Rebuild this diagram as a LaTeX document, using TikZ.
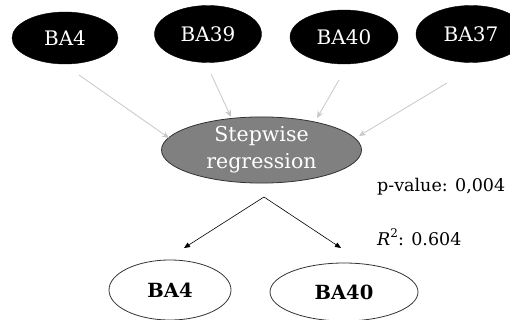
\documentclass[tikz,border=0pt]{standalone}
\usepackage{fontspec}
\setmainfont{DejaVu Serif}
\usetikzlibrary{shapes.geometric,arrows.meta}
\begin{document}
\begin{tikzpicture}[x=1pt,y=-1pt,
  topnode/.style={ellipse,fill=black,draw=black,text=white,inner sep=0pt,font=\fontsize{20}{24}\selectfont},
  midnode/.style={ellipse,fill=black!50,draw=black!80,line width=0.8pt,text=white,inner sep=0pt,align=center,font=\fontsize{20.5}{27}\selectfont},
  botnode/.style={ellipse,draw=black!80,line width=0.8pt,fill=white,inner sep=0pt,font=\fontsize{19.5}{22}\selectfont\bfseries},
  grayarrow/.style={draw=black!22,line width=0.8pt,-{Stealth[length=7pt,width=6pt,fill=black!22]}},
  blackarrow/.style={draw=black,line width=0.6pt,-{Triangle[length=6pt,width=5pt]}},
  lab/.style={anchor=west,inner sep=0pt,font=\fontsize{17.5}{20}\selectfont}]
\useasboundingbox (0,0) rectangle (510,320);
\node[topnode,minimum width=106pt,minimum height=52pt] (t1) at (65,38) {BA4};
\node[topnode,minimum width=107pt,minimum height=57pt] (t2) at (208,34) {BA39};
\node[topnode,minimum width=108pt,minimum height=54pt] (t3) at (344,37) {BA40};
\node[topnode,minimum width=110pt,minimum height=57pt] (t4) at (471,34) {BA37};
\node[midnode,minimum width=200pt,minimum height=60pt] (sr) at (261.5,150) {Stepwise\\regression};
\node[botnode,minimum width=122pt,minimum height=60pt] (b1) at (170,290) {BA4};
\node[botnode,minimum width=148pt,minimum height=58pt] (b2) at (344,292) {BA40};
\coordinate (s1) at (79,75);   \coordinate (e1) at (169,138);
\coordinate (s2) at (211,74);  \coordinate (e2) at (231,117);
\coordinate (s3) at (339,80);  \coordinate (e3) at (317,118);
\coordinate (s4) at (447,83);  \coordinate (e4) at (359,136);
\draw[grayarrow] (s1) -- (e1);
\draw[grayarrow] (s2) -- (e2);
\draw[grayarrow] (s3) -- (e3);
\draw[grayarrow] (s4) -- (e4);
\coordinate (fork) at (264,197);
\coordinate (l1) at (184,248);
\coordinate (l2) at (341,248);
\draw[blackarrow] (fork) -- (l1);
\draw[blackarrow] (fork) -- (l2);
\node[lab] (pv) at (377,187) {p-value: 0,004};
\node[lab] (r2) at (377,237) {\textit{R}\raisebox{0.42em}{\fontsize{12}{12}\selectfont 2}: 0.604};
\end{tikzpicture}
\end{document}
